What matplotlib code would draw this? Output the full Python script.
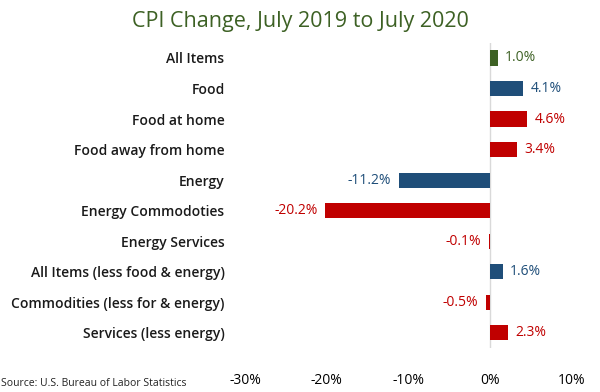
import matplotlib.pyplot as plt
from matplotlib.ticker import FuncFormatter

categories = ['All Items', 'Food', 'Food at home', 'Food away from home', 'Energy',
              'Energy Commodoties', 'Energy Services', 'All Items (less food & energy)',
              'Commodities (less for & energy)', 'Services (less energy)']
values = [1.0, 4.1, 4.6, 3.4, -11.2, -20.2, -0.1, 1.6, -0.5, 2.3]
groups = ['all', 'major', 'sub', 'sub', 'major', 'sub', 'sub', 'major', 'sub', 'sub']
x_ticks = [-30, -20, -10, 0, 10]

palette = {'all': '#3d6124', 'major': '#1f4e79', 'sub': '#c00000'}
colors = [palette[g] for g in groups]

plt.rcParams['font.family'] = ['Open Sans', 'DejaVu Sans']

fig = plt.figure(figsize=(6, 3.92), dpi=100)
ax = fig.add_axes([0.409, 0.112, 0.543, 0.779])

pos = list(range(len(categories)))
ax.barh(pos, values, height=0.5, color=colors)
ax.axvline(0, color='#d9d9d9', linewidth=1, zorder=0)

for p, v, c in zip(pos, values, colors):
    off = 0.9 if v >= 0 else -0.9
    ax.text(v + off, p, f'{v:.1f}%', color=c, fontsize=10,
            ha='left' if v >= 0 else 'right', va='center')

ax.set_xlim(-30, 10)
ax.set_ylim(len(categories) - 0.5, -0.5)
ax.set_yticks(pos)
ax.set_yticklabels(categories, fontsize=10, color='#1a1a1a', fontweight='semibold')
ax.set_xticks(x_ticks)
ax.xaxis.set_major_formatter(FuncFormatter(lambda x, _: f'{x:.0f}%'))
ax.tick_params(axis='both', length=0)
ax.tick_params(axis='y', pad=15)
ax.tick_params(axis='x', pad=18, labelsize=10)
for s in ax.spines.values():
    s.set_visible(False)

fig.text(0.5, 0.945, 'CPI Change, July 2019 to July 2020', ha='center', va='center',
         fontsize=15.5, color='#3d6124', fontweight='medium')
fig.text(0.002, 0.022, 'Source: U.S. Bureau of Labor Statistics', fontsize=7.5,
         color='#222222', va='center')

fig.savefig('out.png', dpi=100)
